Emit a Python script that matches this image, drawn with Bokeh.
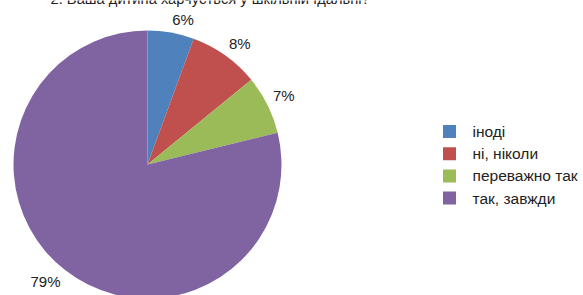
import numpy as np
from bokeh.plotting import figure
from bokeh.models import ColumnDataSource, Range1d
from bokeh.core.properties import value
from bokeh.embed import file_html
from bokeh.resources import INLINE

title = "2. Ваша дитина харчується у шкільній їдальні?"
categories = ["іноді", "ні, ніколи", "переважно так", "так, завжди"]
shares = [5.6, 8.5, 7.1, 78.8]
labels = ["6%", "8%", "7%", "79%"]
colors = ["#4F81BD", "#C0504D", "#9BBB59", "#8064A2"]

W, H = 583, 295
FONT = "Liberation Sans"

p = figure(width=W, height=H, output_backend="svg", toolbar_location=None,
           x_range=Range1d(0, W), y_range=Range1d(0, H), min_border=0)
p.axis.visible = False
p.grid.visible = False
p.outline_line_color = None
p.background_fill_color = "white"
p.border_fill_color = "white"

def py(v):
    return H - v

cx, cy, r = 147, py(164), 134
frac = np.array(shares) / sum(shares)
cum = np.concatenate([[0], np.cumsum(frac)])
start = np.pi / 2 - 2 * np.pi * cum[:-1]
end = np.pi / 2 - 2 * np.pi * cum[1:]
src = ColumnDataSource(dict(start=start, end=end, color=colors))
p.wedge(x=cx, y=cy, radius=r, radius_units="screen", start_angle="start", end_angle="end",
        direction="clock", fill_color="color", line_color=None, source=src)

# data labels outside slices
mid = (start + end) / 2
lr = 140
lw = np.array([22, 22, 22, 31])
lx = cx + lr * np.cos(mid) + np.sign(np.cos(mid)) * lw / 2
ly = cy + lr * np.sin(mid) + np.sign(np.sin(mid)) * 7
p.text(x=lx, y=ly, text=labels, text_font=value(FONT), text_font_size="15px",
       text_align="center", text_baseline="middle", text_color="#222222")

# title (clipped at the top as in the original)
p.text(x=[50], y=[py(-2)], text=[title], text_font=value(FONT), text_font_size="14.7px",
       text_align="left", text_baseline="alphabetic", text_color="#222222")

# legend
rows = np.arange(len(categories))
ry = py(131 + rows * 22.2)
p.rect(x=449, y=ry, width=13, height=13, width_units="screen", height_units="screen",
       fill_color=colors, line_color=None)
p.text(x=472, y=ry, text=categories, text_font=value(FONT), text_font_size="15.5px",
       text_align="left", text_baseline="middle", text_color="#222222")

open("out.html", "w").write(file_html(p, INLINE))
